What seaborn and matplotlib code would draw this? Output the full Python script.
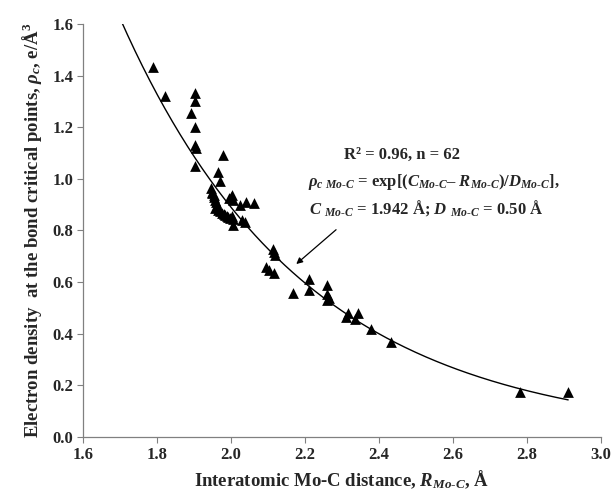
import numpy as np
import pandas as pd
import matplotlib
matplotlib.use("Agg")
import matplotlib.pyplot as plt
import seaborn as sns

# ---- data ----
r_moc = [1.788, 1.822, 1.903, 1.903, 1.893, 1.903, 1.903, 1.903, 1.978, 1.964,
         1.970, 1.945, 1.948, 1.953, 1.957, 1.961, 1.957, 1.966, 1.975, 1.984,
         1.993, 2.002, 2.005, 2.005, 2.002, 2.006, 1.995, 2.025, 2.042, 2.062,
         2.029, 2.038, 2.113, 2.119, 2.095, 2.104, 2.116, 2.167, 2.212, 2.212,
         2.261, 2.261, 2.261, 2.317, 2.310, 2.343, 2.336, 2.378, 2.432, 2.781,
         2.912, 1.950, 1.955, 1.960, 1.970, 1.980, 1.990, 1.997, 2.000, 1.905,
         2.265, 2.116]
rho_c = [1.434, 1.322, 1.334, 1.303, 1.257, 1.200, 1.132, 1.050, 1.093, 1.028,
         0.990, 0.964, 0.951, 0.938, 0.919, 0.899, 0.886, 0.880, 0.869, 0.860,
         0.854, 0.857, 0.844, 0.822, 0.938, 0.917, 0.925, 0.899, 0.912, 0.906,
         0.839, 0.834, 0.727, 0.705, 0.660, 0.647, 0.634, 0.559, 0.611, 0.570,
         0.589, 0.553, 0.531, 0.482, 0.464, 0.479, 0.459, 0.419, 0.367, 0.173,
         0.176, 0.945, 0.930, 0.910, 0.875, 0.865, 0.858, 0.850, 0.930, 1.120,
         0.540, 0.718]

# fit parameters printed on the chart
C_fit = 1.942
D_fit = 0.50
fit_range = [1.70, 2.912]

x_ticks = [1.6, 1.8, 2.0, 2.2, 2.4, 2.6, 2.8, 3.0]
y_ticks = [0.0, 0.2, 0.4, 0.6, 0.8, 1.0, 1.2, 1.4, 1.6]

df = pd.DataFrame({"R": r_moc, "rho": rho_c})
xf = np.linspace(fit_range[0], fit_range[1], 300)
fit_df = pd.DataFrame({"R": xf, "rho": np.exp((C_fit - xf) / D_fit)})

sns.set_theme(style="white")
plt.rcParams["font.family"] = ["Liberation Serif", "DejaVu Serif"]
plt.rcParams["font.weight"] = "bold"
plt.rcParams["mathtext.fontset"] = "custom"
plt.rcParams["mathtext.rm"] = "Liberation Serif:bold"
plt.rcParams["mathtext.it"] = "Liberation Serif:italic:bold"
plt.rcParams["mathtext.bf"] = "Liberation Serif:bold"

fig = plt.figure(figsize=(6.13, 4.96), dpi=100)
ax = fig.add_axes([0.1354, 0.119, 0.8446, 0.8326])

sns.lineplot(data=fit_df, x="R", y="rho", ax=ax, color="black", linewidth=1.0)
sns.scatterplot(data=df, x="R", y="rho", ax=ax, marker="^", s=60,
                color="black", edgecolor="black", linewidth=0, zorder=3)

ax.set_xlim(1.6, 3.0)
ax.set_ylim(0.0, 1.6)
ax.set_xticks(x_ticks)
ax.set_yticks(y_ticks)
ax.set_xticklabels([f"{v:.1f}" for v in x_ticks], fontsize=12, fontweight="bold")
ax.set_yticklabels([f"{v:.1f}" for v in y_ticks], fontsize=12, fontweight="bold")
ax.tick_params(axis="both", direction="out", length=4, width=0.8,
               color="#808080", bottom=True, left=True, pad=3)
for s in ["top", "right"]:
    ax.spines[s].set_visible(False)
for s in ["left", "bottom"]:
    ax.spines[s].set_color("#808080")
    ax.spines[s].set_linewidth(0.9)

hy = "\u2010"
ax.set_xlabel(r"Interatomic Mo-C distance, $R_{Mo" + hy + r"C}$, Å",
              fontsize=13.5, fontweight="bold", labelpad=4)
ax.set_ylabel(r"Electron density  at the bond critical points, $\rho_c$, e/Å$^3$",
              fontsize=13.5, fontweight="bold", labelpad=6)

sub = r"_{Mo" + hy + r"C}"
ax.text(2.462, 1.093, "R² = 0.96, n = 62", ha="center", va="center",
        fontsize=12, fontweight="bold")
ax.text(2.549, 0.988,
        r"$\rho_{c\ Mo" + hy + r"C}$ = exp[($C" + sub + r"$– $R" + sub + r"$)/$D" + sub + r"$],",
        ha="center", va="center", fontsize=12, fontweight="bold")
ax.text(2.527, 0.888,
        r"$C\ " + sub + r"$ = 1.942 Å; $D\ " + sub + r"$ = 0.50 Å",
        ha="center", va="center", fontsize=12, fontweight="bold")

ax.annotate("", xy=(2.171, 0.663), xytext=(2.29, 0.81),
            arrowprops=dict(arrowstyle="-|>", color="black", lw=0.9,
                            mutation_scale=9))

fig.savefig("out.png", dpi=100)
